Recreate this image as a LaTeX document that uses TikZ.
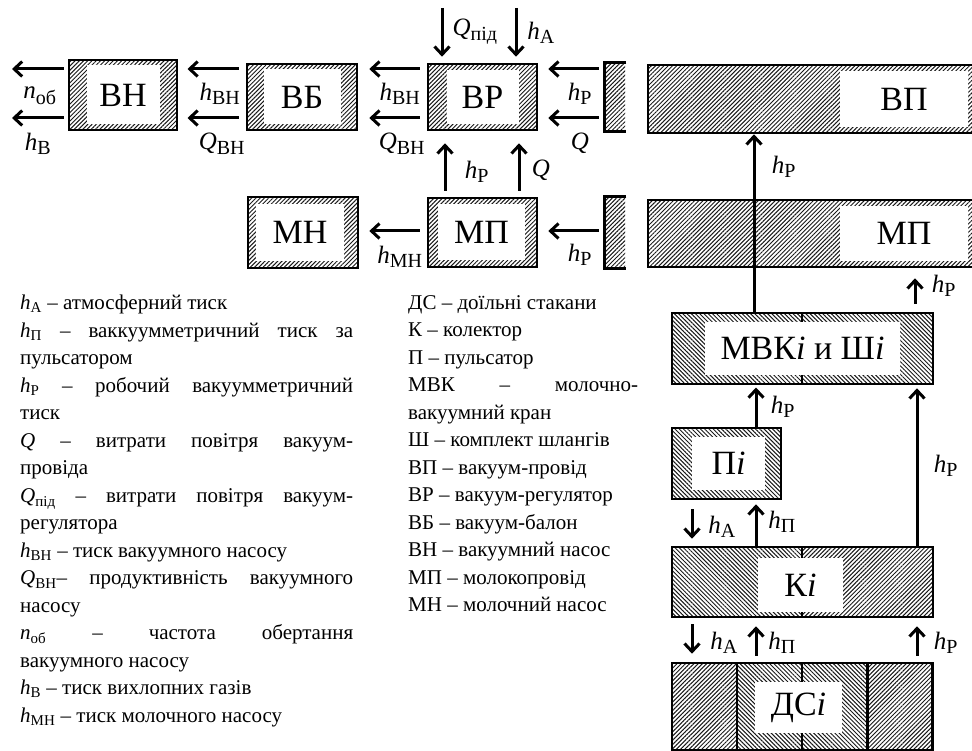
\documentclass[tikz,border=0pt]{standalone}
\usepackage{amsmath}
\usepackage{fontspec}
\setmainfont{Liberation Serif}
\DeclareMathSizes{25}{25}{20}{15}
\DeclareMathSizes{21}{21}{15}{11}
\usetikzlibrary{calc,arrows.meta,patterns.meta}
\tikzset{
  blk/.style={draw, line width=2.6pt, inner sep=0,
    pattern={Lines[angle=#1,distance=3pt,line width=1pt]}, pattern color=black!90},
  hole/.style={fill=white, inner sep=0, font=\fontsize{34}{40}\selectfont},
  arr/.style={-{Straight Barb[length=8pt,width=15pt]}, line width=3pt},
  lbl/.style={inner sep=0, font=\fontsize{25}{30}\selectfont},
  expl/.style={inner sep=0, anchor=north west, align=justify,
    font=\fontsize{21}{27.5}\selectfont}
}
\newcommand{\vh}{\textit{h}}
\newcommand{\vq}{\textit{Q}}
\newcommand{\vn}{\textit{n}}

\begin{document}
\begin{tikzpicture}[x=1pt,y=-1pt]
\useasboundingbox (0,0) rectangle (972,751);
\clip (0,0) rectangle (972,751);
% vacuum line
\node[blk=45, minimum width=108, minimum height=70] (vn) at (123,95) {};
\node[hole, minimum width=73, minimum height=59] (vn-t) at (vn) {ВН};
\node[blk=45, minimum width=110, minimum height=66] (vb) at (302,97) {};
\node[hole, minimum width=77, minimum height=55] (vb-t) at (vb) {ВБ};
\node[blk=45, minimum width=109, minimum height=66] (vr) at (482.5,97) {};
\node[hole, minimum width=72, minimum height=54] (vr-t) at (vr) {ВР};
\node[blk=45, draw=none, minimum width=19, minimum height=66] (c1) at (615.5,97) {};
\draw[line width=2.6pt] (c1.north east) -- (c1.north west) -- (c1.south west) -- (c1.south east);
% milk line
\node[blk=45, minimum width=110, minimum height=71] (mn) at (303,232.5) {};
\node[hole, minimum width=88, minimum height=57] (mn-t) at (300,232.5) {МН};
\node[blk=45, minimum width=109, minimum height=69] (mp) at (482.5,232.5) {};
\node[hole, minimum width=87, minimum height=56] (mp-t) at (481.5,232) {МП};
\node[blk=45, draw=none, minimum width=19, minimum height=69] (c2) at (615.5,232.5) {};
\draw[line width=2.6pt] (c2.north east) -- (c2.north west) -- (c2.south west) -- (c2.south east);
% pipes
\node[blk=45, minimum width=337, minimum height=68] (vpb) at (816.5,99) {};
\node[hole, minimum width=128, minimum height=56] (vpb-t) at (904,99) {ВП};
\node[blk=45, minimum width=337, minimum height=67] (mpb) at (816.5,233.5) {};
\node[hole, minimum width=128, minimum height=55] (mpb-t) at (904,233.5) {МП};
% milking unit
\node[blk=-45, minimum width=130, minimum height=71] (mvk1) at (737,348.5) {};
\node[blk=-45, minimum width=131, minimum height=71] (mvk2) at (867.5,348.5) {};
\node[hole, minimum width=195, minimum height=53] (mvk-t) at (802.5,348.5) {МВК\textit{i} и Ш\textit{i}};
\node[blk=-45, minimum width=109, minimum height=71] (pi) at (726.5,463.5) {};
\node[hole, minimum width=73, minimum height=53] (pi-t) at (728.5,463.5) {П\textit{i}};
\node[blk=-45, minimum width=130, minimum height=70] (ki1) at (737,582) {};
\node[blk=45, minimum width=131, minimum height=70] (ki2) at (867.5,582) {};
\node[hole, minimum width=85, minimum height=54] (ki-t) at (800.5,585) {К\textit{i}};
\foreach \n/\x/\a in {1/704.5/45, 2/769.5/-45, 3/834.5/-45, 4/900/45}
  \node[blk=\a, minimum width=65, minimum height=87] (ds\n) at (\x,706.5) {};
\node[hole, minimum width=87, minimum height=51] (ds-t) at (798.5,707.5) {ДС\textit{i}};
% arrow rows and columns
\coordinate (ex) at (12,0);
\coordinate (y0) at (0,8);
\coordinate (y1) at (0,69);
\coordinate (y2) at (0,118);
\coordinate (y3) at (0,231);
\coordinate (xa) at (442,0);
\coordinate (xb) at (516,0);
\coordinate (xc) at (445,0);
\coordinate (xd) at (519,0);
\coordinate (xe) at (754,0);
\coordinate (xf) at (915,0);
\coordinate (xg) at (756,0);
\coordinate (xh) at (917,0);
\coordinate (xk) at (692,0);
\foreach \r in {y1,y2}{
  \draw[arr, shorten <=5pt] (vn.west |- \r) -- (ex |- \r);
  \draw[arr, shorten <=7pt, shorten >=10pt] (vb.west |- \r) -- (vn.east |- \r);
  \draw[arr, shorten <=7pt, shorten >=11pt] (vr.west |- \r) -- (vb.east |- \r);
  \draw[arr, shorten <=6pt, shorten >=10pt] (c1.west |- \r) -- (vr.east |- \r);
}
\draw[arr, shorten <=7pt, shorten >=10pt] (mp.west |- y3) -- (mn.east |- y3);
\draw[arr, shorten <=6pt, shorten >=10pt] (c2.west |- y3) -- (mp.east |- y3);
\draw[arr, shorten >=6pt] (xa |- y0) -- (xa |- vr.north);
\draw[arr, shorten >=6pt] (xb |- y0) -- (xb |- vr.north);
\draw[arr, shorten <=6pt, shorten >=12pt] (xc |- mp.north) -- (xc |- vr.south);
\draw[arr, shorten <=6pt, shorten >=12pt] (xd |- mp.north) -- (xd |- vr.south);
\draw[arr] (xe |- mvk1.north) -- (xe |- vpb.south);
\draw[arr, shorten <=8pt, shorten >=10pt] (xf |- mvk2.north) -- (xf |- mpb.south);
\draw[arr, shorten >=3pt] (xg |- pi.north) -- (xg |- mvk1.south);
\draw[arr, shorten >=3pt] (xh |- ki2.north) -- (xh |- mvk2.south);
\draw[arr, shorten <=9pt, shorten >=7pt] (xk |- pi.south) -- (xk |- ki1.north);
\draw[arr, shorten >=4pt] (xg |- ki1.north) -- (xg |- pi.south);
\draw[arr, shorten <=6pt, shorten >=8pt] (xk |- ki1.south) -- (xk |- ds1.north);
\draw[arr, shorten <=6pt, shorten >=8pt] (xg |- ds2.north) -- (xg |- ki1.south);
\draw[arr, shorten <=6pt, shorten >=8pt] (xh |- ds4.north) -- (xh |- ki2.south);
% arrow labels
\foreach \t/\x/\y [count=\i] in {
  \vn_{\text{об}}/40/96, \vh_{\text{В}}/38/144, \vh_{\text{ВН}}/220/94, \vq_{\text{ВН}}/222/144,
  \vh_{\text{ВН}}/400/94, \vq_{\text{ВН}}/402/144, \vh_{\text{Р}}/580/94, \vq/580/143,
  \vq_{\text{під}}/475/32, \vh_{\text{А}}/541/33, \vh_{\text{Р}}/477/172, \vq/541/170,
  \vh_{\text{МН}}/400/257, \vh_{\text{Р}}/580/255, \vh_{\text{Р}}/784/167, \vh_{\text{Р}}/944/286,
  \vh_{\text{Р}}/783/407, \vh_{\text{Р}}/946/466, \vh_{\text{А}}/722/527, \vh_{\text{П}}/782/522,
  \vh_{\text{А}}/724/643, \vh_{\text{П}}/782/643, \vh_{\text{Р}}/946/643}
  \node[lbl] (l\i) at (\x,\y) {$\t$};
% legend
\node[expl, text width=333pt] (key1) at (20,295) {%
$\vh_{\text{А}}$ – атмосферний тиск\par
$\vh_{\text{П}}$ – ваккуумметричний тиск за\linebreak пульсатором\par
$\vh_{\text{Р}}$ – робочий вакуумметричний\linebreak тиск\par
$\vq$ – витрати повітря вакуум-\linebreak провіда\par
$\vq_{\text{під}}$ – витрати повітря вакуум-\linebreak регулятора\par
$\vh_{\text{ВН}}$ – тиск вакуумного насосу\par
$\vq_{\text{ВН}}$– продуктивність вакуумного\linebreak насосу\par
$\vn_{\text{об}}$ – частота обертання\linebreak вакуумного насосу\par
$\vh_{\text{В}}$ – тиск вихлопних газів\par
$\vh_{\text{МН}}$ – тиск молочного насосу};
\node[expl, text width=230pt] (key2) at (408,295) {%
ДС – доїльні стакани\par
К – колектор\par
П – пульсатор\par
МВК – молочно-\linebreak вакуумний кран\par
Ш – комплект шлангів\par
ВП – вакуум-провід\par
ВР – вакуум-регулятор\par
ВБ – вакуум-балон\par
ВН – вакуумний насос\par
МП – молокопровід\par
МН – молочний насос};
\end{tikzpicture}
\end{document}
